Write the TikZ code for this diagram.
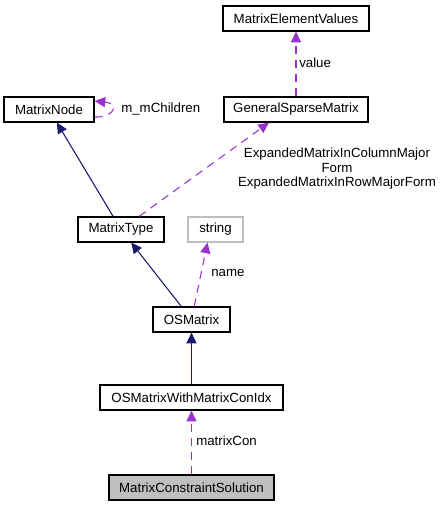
\documentclass[tikz,border=0pt]{standalone}
\usepackage{fontspec}
\setmainfont{Liberation Sans}
\usetikzlibrary{arrows.meta,calc}
\definecolor{navyedge}{HTML}{191970}
\definecolor{purpleedge}{HTML}{9A32CD}
\definecolor{grayfill}{HTML}{BFBFBF}
\tikzset{
  cls/.style={draw=black, line width=0.9bp, fill=white, minimum height=18.75bp, inner sep=0pt, font=\fontsize{10}{12}\selectfont},
  w/.style={minimum width=#1*0.75bp},
  inh/.style={draw=navyedge, line width=0.8bp, -{Triangle[length=8bp,width=7.5bp]}},
  dep/.style={draw=purpleedge, line width=0.8bp, dash pattern=on 6bp off 4.5bp, -{Triangle[length=8bp,width=7.5bp]}},
  lbl/.style={font=\fontsize{10}{10.9}\selectfont, inner sep=0pt, text=black}
}
\begin{document}
\begin{tikzpicture}[x=0.75bp,y=-0.75bp]
\useasboundingbox (0,0) rectangle (440,507);
\node[cls,w=146] (MEV) at (296,18.5) {MatrixElementValues};
\node[cls,w=90] (MN) at (49,109.5) {MatrixNode};
\node[cls,w=144] (GSM) at (296,109.5) {GeneralSparseMatrix};
\node[cls,w=86] (MT) at (121,229.5) {MatrixType};
\node[cls,w=55,draw=grayfill] (STR) at (215.5,229.5) {string};
\node[cls,w=77] (OSM) at (191.5,319.5) {OSMatrix};
\node[cls,w=183] (OSMW) at (191.5,397.5) {OSMatrixWithMatrixConIdx};
\node[cls,w=165,fill=grayfill] (MCS) at (191.5,487.5) {MatrixConstraintSolution};

\coordinate (gsmin) at ($(GSM.south)+(-27,0)$);
\coordinate (strin) at ($(STR.south)+(-8,0)$);
\coordinate (loopout) at ($(MN.east)+(0,7.5)$);
\coordinate (loopin) at ($(MN.east)+(0,-8.5)$);

\draw[inh] (MT) -- (MN);
\draw[dep] (MT) -- (gsmin);
\draw[dep] (GSM) -- (MEV);
\draw[dep] (loopout) .. controls (112,118) and (122,104) .. (loopin);
\draw[inh] (OSM) -- (MT);
\draw[dep] (OSM) -- (strin);
\draw[inh] (OSMW) -- (OSM);
\draw[dep] (MCS) -- (OSMW);

\node[lbl,anchor=west] (lvalue) at (299,62.5) {value};
\node[lbl,anchor=west] (lchild) at (121,109) {m\_mChildren};
\node[lbl,align=center] (lexp) at (337,169) {ExpandedMatrixInColumnMajor\\Form\\ExpandedMatrixInRowMajorForm};
\node[lbl,anchor=west] (lname) at (211,273) {name};
\node[lbl,anchor=west] (lmc) at (196,441) {matrixCon};
\end{tikzpicture}
\end{document}
